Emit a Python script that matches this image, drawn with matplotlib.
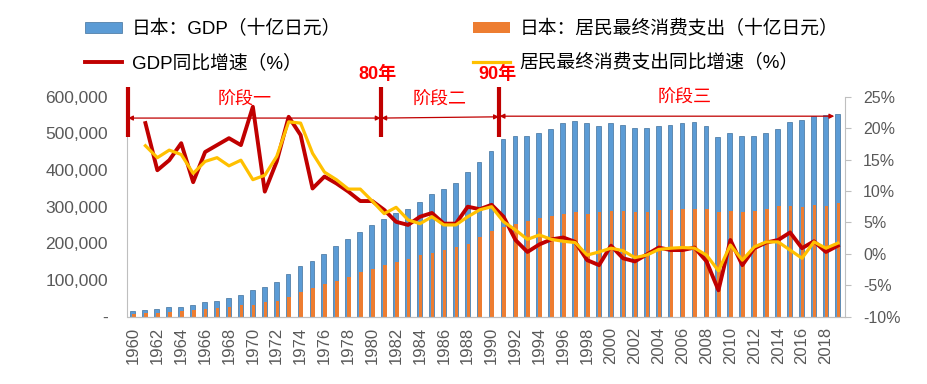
import matplotlib
matplotlib.use("Agg")
import matplotlib.pyplot as plt
import numpy as np

plt.rcParams['font.family'] = ['Liberation Sans', 'Noto Sans CJK SC', 'DejaVu Sans']

years = list(range(1960, 2020))

# 日本 GDP（十亿日元）
gdp = [15, 18, 20, 25.5, 27, 33, 39, 44, 51, 60,
       74, 82, 95, 117, 137, 153, 172, 194, 212, 231,
       249, 267, 284, 295, 313, 334, 349, 366, 395, 422,
       452, 484, 493, 493, 502, 513, 527, 533, 529, 521,
       527, 524, 516, 516, 521, 524, 527, 532, 521, 489,
       500, 492, 493, 502, 512, 532, 536, 548, 550, 554]
gdp = [v * 1000 for v in gdp]

# 居民最终消费支出（十亿日元）
cons = [7, 10, 10, 13, 15, 18, 20, 24, 26, 31,
        33, 39, 44, 55, 67, 78, 88, 98, 109, 121,
        130, 140, 150, 158, 167, 174, 182, 190, 199, 217,
        233, 246, 252, 261, 270, 275, 279, 285, 281, 285,
        287, 287, 285, 285, 290, 290, 295, 295, 295, 285,
        287, 285, 288, 295, 301, 301, 299, 304, 303, 310]
cons = [v * 1000 for v in cons]

# 同比增速（%），1961 起
gdp_growth = [20.8, 13.3, 14.9, 17.6, 11.4, 16.2, 17.3, 18.4, 17.3,
              23.4, 9.9, 14.7, 21.8, 18.9, 10.4, 12.3, 11.2, 9.9, 8.4,
              8.4, 7.0, 5.1, 4.6, 5.9, 6.5, 4.8, 4.8, 7.5, 7.1,
              7.8, 5.9, 2.2, 0.3, 1.5, 2.3, 2.6, 1.9, -1.0, -1.8,
              1.3, -0.7, -1.2, -0.1, 1.0, 0.6, 0.6, 1.0, -1.2, -5.8,
              2.2, -1.8, 0.9, 1.8, 2.2, 3.4, 0.9, 2.0, 0.3, 1.3]
cons_growth = [17.2, 15.3, 16.5, 15.8, 12.8, 14.7, 15.3, 14.0, 14.9,
               11.8, 12.5, 15.5, 21.0, 20.8, 16.0, 13.0, 11.8, 10.3, 10.3,
               8.4, 6.4, 7.4, 5.4, 4.8, 5.9, 4.6, 4.6, 5.9, 7.0,
               7.5, 5.1, 3.8, 2.3, 3.0, 2.3, 2.0, 1.8, -0.2, 0.3,
               0.9, 0.5, -0.6, -0.2, 0.7, 0.9, 1.0, 0.9, -0.2, -2.7,
               1.4, -1.0, 1.1, 1.9, 1.9, 0.6, -0.7, 1.9, 0.9, 1.7]

x = np.array(years)

fig = plt.figure(figsize=(9.28, 3.84), dpi=100)
ax = fig.add_axes([127.5 / 928, 67.3 / 384, 717.5 / 928, 220 / 384])
ax2 = ax.twinx()

ax.bar(x - 0.05, gdp, width=0.4, color='#5B9BD5', edgecolor='#41719C', linewidth=0.5,
       label='日本：GDP（十亿日元）')
ax.bar(x + 0.05, cons, width=0.3, color='#ED7D31', linewidth=0,
       label='日本：居民最终消费支出（十亿日元）')

ax2.plot(x[1:], gdp_growth, color='#C00000', lw=2.8, solid_joinstyle='round',
         label='GDP同比增速（%）')
ax2.plot(x[1:], cons_growth, color='#FFC000', lw=2.3, solid_joinstyle='round',
         label='居民最终消费支出同比增速（%）')

ax.set_xlim(1959.5, 2019.6)
ax.set_ylim(0, 600000)
ax2.set_ylim(-10, 25)

ax.set_yticks(range(0, 600001, 100000))
ax.set_yticklabels(['-'] + [f'{v:,}' for v in range(100000, 600001, 100000)])
ax.set_xticks(years[::2])
ax.set_xticklabels([str(y) for y in years[::2]], rotation=90)
ax2.set_yticks(range(-10, 26, 5))
ax2.set_yticklabels([f'{v}%' for v in range(-10, 26, 5)])

gray = '#595959'
ax.tick_params(axis='y', length=0, pad=14, labelsize=12.5, labelcolor=gray)
ax.tick_params(axis='x', length=0, pad=7, labelsize=12, labelcolor=gray)
ax2.tick_params(axis='y', length=4, width=0.8, color='#BFBFBF', pad=9,
                labelsize=11.5, labelcolor=gray)

for a in (ax, ax2):
    a.spines['top'].set_visible(False)
    for s in ('left', 'right', 'bottom'):
        a.spines[s].set_color('#BFBFBF')
ax2.spines['left'].set_visible(False)
ax.spines['right'].set_visible(False)

# 阶段标注
red_dark = '#C00000'
red = '#FF0000'
for xv in (1959.52, 1980.73, 1990.64):
    ax2.plot([xv, xv], [18.6, 26.6], color=red_dark, lw=3, clip_on=False,
             solid_capstyle='butt')

arrow = dict(arrowstyle='<|-|>', color=red_dark, lw=0.9, mutation_scale=7,
             shrinkA=0, shrinkB=0)
ax2.annotate('', xy=(1959.55, 21.6), xytext=(1980.7, 21.6), arrowprops=arrow,
             annotation_clip=False)
ax2.annotate('', xy=(1980.76, 21.6), xytext=(1990.61, 21.8), arrowprops=arrow,
             annotation_clip=False)
ax2.annotate('', xy=(1990.67, 21.9), xytext=(2018.7, 21.9), arrowprops=arrow,
             annotation_clip=False)

cjk = ['Noto Sans CJK SC', 'DejaVu Sans']
ax2.text(1969.3, 24.5, '阶段一', color=red, fontsize=13, ha='center', va='center',
         family=cjk, clip_on=False)
ax2.text(1985.6, 24.6, '阶段二', color=red, fontsize=13, ha='center', va='center',
         family=cjk, clip_on=False)
ax2.text(2006.2, 24.8, '阶段三', color=red, fontsize=13, ha='center', va='center',
         family=cjk, clip_on=False)
ax2.text(1980.45, 28.5, '80年', color=red, fontsize=13, ha='center', va='center',
         family=['Liberation Sans', 'Noto Sans CJK SC'], weight='bold', clip_on=False)
ax2.text(1990.5, 28.5, '90年', color=red, fontsize=13, ha='center', va='center',
         family=['Liberation Sans', 'Noto Sans CJK SC'], weight='bold', clip_on=False)

# 图例：两行两列
h1, l1 = ax.get_legend_handles_labels()
h2, l2 = ax2.get_legend_handles_labels()
handles = [h1[0], h2[0], h1[1], h2[1]]
labels = [l1[0], l2[0], l1[1], l2[1]]
fig.legend(handles, labels, ncol=2, loc='upper left',
           bbox_to_anchor=(85 / 928, 1 - 20 / 384), frameon=False,
           borderpad=0, borderaxespad=0,
           handlelength=2.0, handleheight=0.5, handletextpad=0.5,
           columnspacing=7.0, labelspacing=0.85,
           prop={'family': ['Liberation Sans', 'Noto Sans CJK SC'], 'size': 13.5})

fig.savefig('out.png', dpi=100)
